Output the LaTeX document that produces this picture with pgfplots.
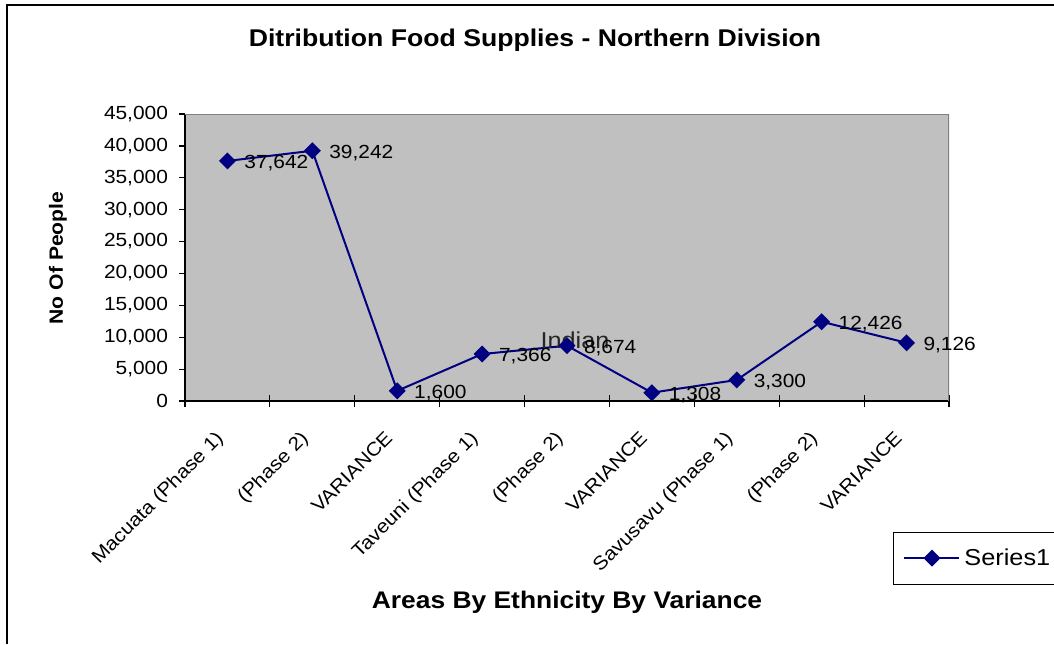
\documentclass[border=0pt]{standalone}
\usepackage{fontspec}
\setmainfont{Liberation Sans}[FakeStretch=1.1]
\usepackage{pgfplots}
\pgfplotsset{compat=1.18}
\definecolor{plotbg}{HTML}{C0C0C0}
\definecolor{navyline}{HTML}{000080}
\definecolor{framegray}{HTML}{808080}

\begin{document}
\begin{tikzpicture}
\path[use as bounding box] (0,0) rectangle (527pt,-322pt);
\draw[line width=0.8pt] (3.5pt,-322pt) -- (3.5pt,-2.5pt) -- (527pt,-2.5pt);
\node[font=\fontsize{12.1}{14}\selectfont\bfseries] at (267.5pt,-20pt) {Ditribution Food Supplies - Northern Division};
\node[font=\fontsize{12}{14}\selectfont\bfseries] at (283.5pt,-301pt) {Areas By Ethnicity By Variance};
\node[font=\fontsize{9.6}{11}\selectfont\bfseries, rotate=90] at (29pt,-129pt) {No Of People};
\begin{axis}[
  at={(92.5pt,-200.5pt)}, anchor=south west,
  scale only axis, width=382pt, height=143.5pt,
  xmin=-0.5, xmax=8.5, ymin=0, ymax=45000,
  axis lines=left, axis line style={-, line width=0.75pt, black},
  axis background/.style={fill=plotbg},
  xtick={0,...,8},
  xticklabels={Macuata (Phase 1),(Phase 2),VARIANCE,Taveuni (Phase 1),(Phase 2),VARIANCE,Savusavu (Phase 1),(Phase 2),VARIANCE},
  major x tick style={draw=none},
  minor xtick={-0.5,0.5,...,8.5},
  minor x tick style={black, line width=0.6pt},
  minor tick length=6pt,
  xtick align=center,
  ytick={0,5000,...,45000},
  ytick align=outside,
  major tick length=3pt,
  y tick style={black, line width=0.6pt},
  scaled y ticks=false,
  /pgf/number format/assume math mode=true,
  yticklabel style={font=\fontsize{9.5}{11}\selectfont, xshift=-2pt, /pgf/number format/fixed, /pgf/number format/precision=0, /pgf/number format/1000 sep={,}},
  xticklabel style={font=\fontsize{9.5}{11}\selectfont, rotate=45, anchor=north east, inner sep=0pt, xshift=-13.6pt, yshift=-4.4pt},
  legend style={at={(0.9267,-0.456)}, anchor=north west, draw=black, line width=0.5pt, font=\fontsize{11.5}{13}\selectfont, inner xsep=5pt, inner ysep=6pt},
  legend image code/.code={\draw[mark repeat=2,mark phase=2] plot coordinates {(0pt,0pt) (13.75pt,0pt) (27.5pt,0pt)};},
]
\draw[framegray, line width=1pt] (rel axis cs:0,1) -- (rel axis cs:1,1) -- (rel axis cs:1,0);
\addplot[navyline, line width=1pt, mark=square*, mark size=2.5pt,
  mark options={rotate=45, fill=navyline, solid},
  nodes near coords={\pgfmathprintnumber[fixed,precision=0,1000 sep={,}]{\pgfplotspointmeta}},
  nodes near coords style={anchor=west, inner sep=0pt, xshift=8pt, yshift=-1pt, text=black, font=\fontsize{9.5}{11}\selectfont}]
coordinates {(0,37642) (1,39242) (2,1600) (3,7366) (4,8674) (5,1308) (6,3300) (7,12426) (8,9126)};
\addlegendentry{Series1}
\node[font=\fontsize{11.5}{13}\selectfont, text=black!85, inner sep=0pt] at (axis cs:4,8674) [xshift=4pt, yshift=2.5pt] {Indian};
\end{axis}
\end{tikzpicture}
\end{document}
